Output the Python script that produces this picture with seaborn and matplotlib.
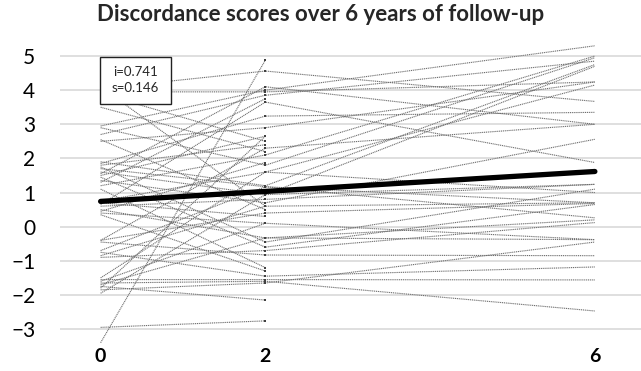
import numpy as np
import pandas as pd
import seaborn as sns
from matplotlib import pyplot as plt
from matplotlib.patches import Rectangle

# follow-up years
years = [0, 2, 6]

# discordance score per subject at year 0, 2 and 6 (nan = missing visit)
nan = np.nan
score_y0 = [3.5, 2.95, 2.9, 2.7, 2.55, 2.5, 1.9, 1.85, 1.8, 1.75, 1.6, 1.55, 1.5, 1.45, 1.35, 1.3,
            1.2, 1.1, 0.75, 0.7, 0.65, 0.6, 0.5, 0.45, 0.4, 0.35, 4.05, 3.95, 3.9, 4.1, -0.4, -0.4,
            -0.45, -0.7, -0.75, -0.85, -0.9, -1.5, -1.55, -1.6, -1.65, -1.75, -1.8, -1.85, -1.95,
            -2.95, -1.7, 1.7, -3.4]
score_y2 = [2.2, 4.0, 1.8, 3.85, 0.5, 2.9, 1.2, 3.24, 2.4, -0.45, 0.94, 4.1, 2.65, -0.6, 0.7, 3.75,
            2.1, -1.2, 1.6, 0.3, 3.65, 0.8, -0.33, 1.88, 0.1, -1.3, 4.56, 3.95, 2.5, 0.6, 2.3, 0.4,
            -0.83, 1.17, -1.45, 0.6, -0.7, 1.6, -1.55, 0.1, -1.6, -2.15, 2.65, -1.65, 0.94,
            -2.76, -0.33, 1.17, 4.88]
score_y6 = [nan, 5.3, 4.95, 4.85, nan, 4.24, 4.75, 3.35, nan, 1.1, 4.7, 3.0, nan, 0.65, 2.56, nan,
            5.0, nan, 4.15, nan, 1.88, 1.24, 0.2, nan, -0.38, nan, 3.67, 4.24, nan, 0.7, 3.0, 0.68,
            -0.85, 0.26, -1.18, nan, 0.12, 1.0, -1.56, nan, -2.47, nan, nan, -0.45, 1.24,
            nan, -0.38, 0.7, nan]

# mixed model fit
intercept = 0.741
slope = 0.146

n = len(score_y0)
df = pd.DataFrame({
    "id": np.tile(np.arange(n), 3),
    "year": np.repeat(years, n),
    "score": score_y0 + score_y2 + score_y6,
}).dropna()

fig = plt.figure(figsize=(6.41, 3.71), dpi=100)
ax = fig.add_axes([0.094, 0.067, 0.906, 0.828])
sns.set_style("white")

sns.lineplot(data=df, x="year", y="score", units="id", estimator=None, color="#6e6e6e",
             linewidth=0.8, linestyle=(0, (1, 0.7)), ax=ax, zorder=2)
sns.scatterplot(data=df[df["year"] == 2], x="year", y="score", marker="s", s=4, color="#404040",
                linewidth=0, ax=ax, zorder=3)

fit_x = np.array([0, 6])
ax.plot(fit_x, intercept + slope * fit_x, color="black", lw=3.8, solid_capstyle="round", zorder=4)

# annotation box
ax.add_patch(Rectangle((-0.01, 3.6), 0.86, 1.37, facecolor="white", edgecolor="#222222", lw=1, zorder=5))
ax.text(0.42, 4.285, f"i={intercept}\ns={slope}", ha="center", va="center", fontsize=9.5,
        family="Lato", linespacing=1.4, zorder=6)

ax.set_xlim(-0.49, 6.56)
ax.set_ylim(-3.5, 5.5)
ax.set_yticks(range(-3, 6))
ax.set_xticks(years)
ax.set_xticklabels([str(y) for y in years], fontweight="bold", fontsize=14, family="Lato")
for lab in ax.get_yticklabels():
    lab.set_fontsize(15)
    lab.set_family("Lato")
ax.tick_params(axis="y", length=0, pad=18)
ax.tick_params(axis="x", length=0, pad=1)
ax.set_xlabel("")
ax.set_ylabel("")
ax.grid(axis="y", color="#d9d9d9", lw=1.2, zorder=0)
ax.set_axisbelow(True)
sns.despine(ax=ax, left=True, bottom=True)

fig.suptitle("Discordance scores over 6 years of follow-up", x=0.5, y=0.99, fontsize=16,
             fontweight="bold", family="Lato")

fig.savefig("out.png", dpi=100)
